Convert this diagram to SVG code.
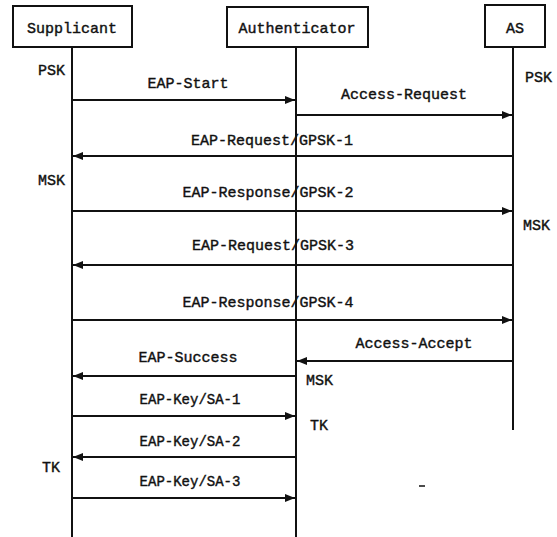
<svg xmlns="http://www.w3.org/2000/svg" width="557" height="537" viewBox="0 0 557 537">
  <style>
    text { font-family: "Liberation Mono", "DejaVu Sans Mono", monospace; font-size: 15px; fill: #111; stroke: #111; stroke-width: 0.4; }
    .mid { text-anchor: middle; }
    .end { text-anchor: end; }
    .small { font-size: 14px; }
    .box { fill: #fff; stroke: #111; stroke-width: 2; }
    .life { stroke: #111; stroke-width: 2; fill: none; }
    .msg { stroke: #111; stroke-width: 2; fill: none; marker-end: url(#arrow); }
  </style>
  <defs>
    <marker id="arrow" viewBox="0 0 10 8" refX="10" refY="4" markerWidth="10" markerHeight="8" markerUnits="userSpaceOnUse" orient="auto">
      <path d="M0,0 L10,4 L0,8 Z" fill="#111"/>
    </marker>
  </defs>

  <!-- participants -->
  <g id="supplicant">
    <rect class="box" x="13" y="6" width="119" height="41"/>
    <text class="mid" x="72" y="33">Supplicant</text>
    <line class="life" x1="72" y1="47" x2="72" y2="537"/>
    <text class="end" x="65" y="75">PSK</text>
    <text class="end" x="65" y="185">MSK</text>
    <text class="end" x="60" y="472">TK</text>
  </g>
  <g id="authenticator">
    <rect class="box" x="227" y="7" width="141" height="40"/>
    <text class="mid" x="297" y="33">Authenticator</text>
    <line class="life" x1="296" y1="47" x2="296" y2="537"/>
    <text x="306" y="385">MSK</text>
    <text x="310" y="430">TK</text>
  </g>
  <g id="as">
    <rect class="box" x="485" y="5" width="60" height="42"/>
    <text class="mid" x="515" y="33">AS</text>
    <line class="life" x1="513" y1="47" x2="513" y2="430"/>
    <text x="525" y="82">PSK</text>
    <text x="523" y="230">MSK</text>
  </g>

  <!-- messages -->
  <g id="connectors">
    <line class="msg" x1="72" y1="100" x2="295" y2="100"/>
    <line class="msg" x1="296" y1="115" x2="512" y2="115"/>
    <line class="msg" x1="513" y1="156" x2="73" y2="156"/>
    <line class="msg" x1="72" y1="211" x2="512" y2="211"/>
    <line class="msg" x1="513" y1="265" x2="73" y2="265"/>
    <line class="msg" x1="72" y1="320" x2="512" y2="320"/>
    <line class="msg" x1="513" y1="361" x2="297" y2="361"/>
    <line class="msg" x1="296" y1="376" x2="73" y2="376"/>
    <line class="msg" x1="72" y1="416" x2="295" y2="416"/>
    <line class="msg" x1="296" y1="457" x2="73" y2="457"/>
    <line class="msg" x1="72" y1="498" x2="295" y2="498"/>
  </g>

  <g id="labels">
    <text class="mid" x="188" y="88">EAP-Start</text>
    <text class="mid" x="404" y="99">Access-Request</text>
    <text class="mid" x="272" y="145">EAP-Request/GPSK-1</text>
    <text class="mid" x="268" y="197">EAP-Response/GPSK-2</text>
    <text class="mid" x="273" y="250">EAP-Request/GPSK-3</text>
    <text class="mid" x="268" y="307">EAP-Response/GPSK-4</text>
    <text class="mid" x="414" y="348">Access-Accept</text>
    <text class="mid" x="188" y="362">EAP-Success</text>
    <text class="mid small" x="190" y="404">EAP-Key/SA-1</text>
    <text class="mid small" x="190" y="446">EAP-Key/SA-2</text>
    <text class="mid small" x="190" y="486">EAP-Key/SA-3</text>
  </g>

  <!-- stray tick -->
  <line x1="419" y1="486" x2="425" y2="486" stroke="#111" stroke-width="1.5"/>
</svg>
